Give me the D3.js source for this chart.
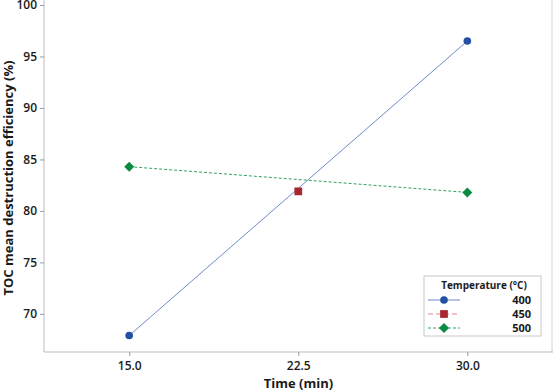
<!DOCTYPE html>
<html>
<head>
<meta charset="utf-8">
<script src="https://cdn.jsdelivr.net/npm/d3@7"></script>
<style>
  body { margin: 0; background: #fff; }
  text { font-family: 'Open Sans', 'DejaVu Sans', sans-serif; fill: #1a1a1a; }
</style>
</head>
<body>
<svg width="555" height="392"></svg>
<script>
// chart data
const temps = ['400', '450', '500']
const times400 = [15, 30]
const values400 = [67.9, 96.5]
const times450 = [22.5]
const values450 = [81.9]
const times500 = [15, 30]
const values500 = [84.3, 81.8]
const xTicks = [15, 22.5, 30]
const yTicks = [70, 75, 80, 85, 90, 95, 100]

const svg = d3.select('svg')
const margin = { top: 5, right: 2, bottom: 40, left: 44 }
const width = +svg.attr('width')
const height = +svg.attr('height')

const x = d3.scaleLinear()
  .domain([11.22, 33.8])
  .range([margin.left, width - margin.right])

const y = d3.scaleLinear()
  .domain([66.3, 100])
  .range([height - margin.bottom, margin.top])

const series = [
  { name: temps[0], values: times400.map(function (t, i) { return { t: t, v: values400[i] } }),
    line: '#6f8bcb', fill: '#2350a3', dash: null, shape: d3.symbolCircle, size: 46, rot: 0 },
  { name: temps[1], values: times450.map(function (t, i) { return { t: t, v: values450[i] } }),
    line: '#d98a8e', fill: '#a8262d', dash: '5,3', shape: d3.symbolSquare, size: 60, rot: 0 },
  { name: temps[2], values: times500.map(function (t, i) { return { t: t, v: values500[i] } }),
    line: '#36a065', fill: '#0b8a42', dash: '3,2', shape: d3.symbolSquare, size: 50, rot: 45 }
]

// frame lines
svg.append('line')
  .attr('x1', width - 3).attr('x2', width - 3)
  .attr('y1', 0).attr('y2', height - margin.bottom)
  .attr('stroke', '#d4d4d4')

const xAxis = d3.axisBottom(x).tickValues(xTicks).tickFormat(d3.format('.1f')).tickSize(4).tickSizeOuter(0)
const yAxis = d3.axisLeft(y).tickValues(yTicks).tickSize(4).tickSizeOuter(0)

const gx = svg.append('g')
  .attr('transform', 'translate(0,' + (height - margin.bottom) + ')')
  .call(xAxis)
gx.select('.domain').attr('d', 'M' + margin.left + ',0H' + (width - 2)).attr('stroke', '#bdbdbd')
gx.selectAll('.tick line').attr('stroke', '#9a9a9a')
gx.selectAll('.tick text').attr('dy', '0.95em').style('font-size', '12px').style('font-weight', 600)

const gy = svg.append('g')
  .attr('transform', 'translate(' + margin.left + ',0)')
  .call(yAxis)
gy.select('.domain').attr('d', 'M0,0V' + (height - margin.bottom)).attr('stroke', '#bdbdbd')
gy.selectAll('.tick line').attr('stroke', '#9a9a9a')
gy.selectAll('.tick text').style('font-size', '12px').style('font-weight', 600)

svg.append('text')
  .attr('x', (margin.left + width) / 2 - 1)
  .attr('y', height - 4)
  .attr('text-anchor', 'middle')
  .style('font-size', '13px')
  .style('font-weight', 700)
  .text('Time (min)')

svg.append('text')
  .attr('transform', 'translate(13,' + 178 + ') rotate(-90)')
  .attr('text-anchor', 'middle')
  .style('font-size', '13px')
  .style('font-weight', 700)
  .text('TOC mean destruction efficiency (%)')

const line = d3.line()
  .x(function (d) { return x(d.t) })
  .y(function (d) { return y(d.v) })

series.forEach(function (s) {
  svg.append('path')
    .attr('d', line(s.values))
    .attr('fill', 'none')
    .attr('stroke', s.line)
    .attr('stroke-width', 1)
    .attr('stroke-dasharray', s.dash)

  svg.selectAll(null)
    .data(s.values)
    .enter()
    .append('path')
    .attr('d', d3.symbol().type(s.shape).size(s.size))
    .attr('transform', function (d) { return 'translate(' + x(d.t) + ',' + y(d.v) + ') rotate(' + s.rot + ')' })
    .attr('fill', s.fill)
})

// legend
const lg = svg.append('g').attr('transform', 'translate(424,276)')
lg.append('rect')
  .attr('width', 117).attr('height', 60)
  .attr('fill', '#fff').attr('stroke', '#c8c8c8')
lg.append('text')
  .attr('x', 60).attr('y', 13)
  .attr('text-anchor', 'middle')
  .style('font-size', '10px')
  .style('font-weight', 700)
  .text('Temperature (°C)')

const items = lg.selectAll('.item')
  .data(series)
  .enter()
  .append('g')
  .attr('transform', function (d, i) { return 'translate(0,' + (24 + i * 14) + ')' })

items.append('line')
  .attr('x1', 4).attr('x2', 36)
  .attr('stroke', function (d) { return d.line })
  .attr('stroke-dasharray', function (d) { return d.dash })
items.append('path')
  .attr('d', function (d) { return d3.symbol().type(d.shape).size(d.size)() })
  .attr('transform', function (d) { return 'translate(20,0) rotate(' + d.rot + ')' })
  .attr('fill', function (d) { return d.fill })
items.append('text')
  .attr('x', 107).attr('dy', '0.35em')
  .attr('text-anchor', 'end')
  .style('font-size', '11px')
  .style('font-weight', 700)
  .text(function (d) { return d.name })
</script>
</body>
</html>
